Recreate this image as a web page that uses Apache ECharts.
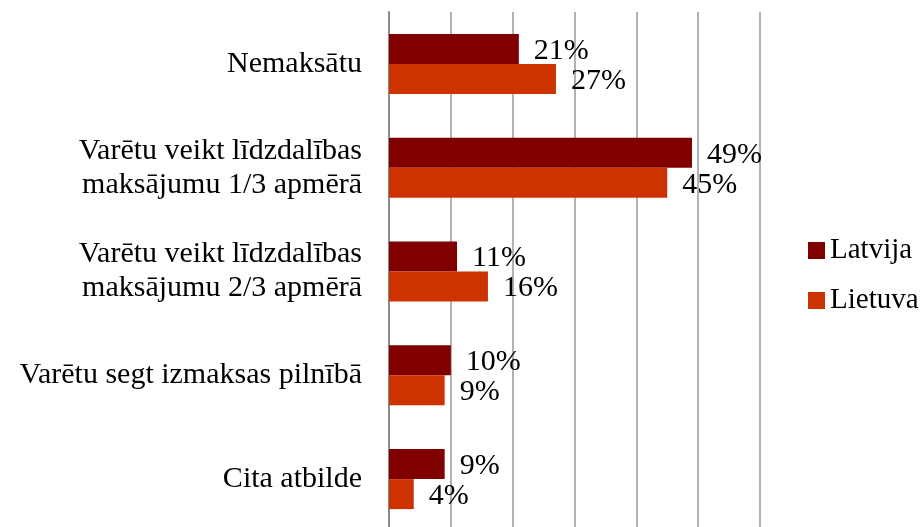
<!DOCTYPE html>
<html>
<head>
    <meta charset="utf-8">
    <title>Chart</title>
    <script src="https://cdn.jsdelivr.net/npm/echarts@6/dist/echarts.min.js"></script>
    <style>
        html, body { margin: 0; padding: 0; background: #fff; }
        #chart { width: 922px; height: 527px; }
    </style>
</head>
<body>
    <div id="chart"></div>
    <script>
        var categories = [
            'Nemaksātu',
            'Varētu veikt līdzdalības\nmaksājumu 1/3 apmērā',
            'Varētu veikt līdzdalības\nmaksājumu 2/3 apmērā',
            'Varētu segt izmaksas pilnībā',
            'Cita atbilde'
        ];
        var latvija = [21, 49, 11, 10, 9];
        var lietuva = [27, 45, 16, 9, 4];

        var font = '"Liberation Serif", "DejaVu Serif", serif';
        var labelStyle = {
            show: true,
            position: 'right',
            distance: 15,
            offset: [0, 2],
            formatter: '{c}%',
            color: '#000',
            fontFamily: font,
            fontSize: 30
        };

        var chart = echarts.init(document.getElementById('chart'));
        chart.setOption({
            animation: false,
            textStyle: { fontFamily: font },
            grid: { left: 389, top: 12, width: 371, height: 519, outerBoundsMode: 'none', containLabel: false },
            legend: {
                orient: 'vertical',
                left: 803,
                top: 231,
                itemWidth: 17,
                itemHeight: 17,
                itemGap: 21,
                icon: 'rect',
                textStyle: { fontFamily: font, fontSize: 29, color: '#000' },
                data: ['Latvija', 'Lietuva']
            },
            xAxis: {
                type: 'value',
                min: 0,
                max: 60,
                interval: 10,
                axisLabel: { show: false },
                axisLine: { show: false },
                axisTick: { show: false },
                splitLine: { lineStyle: { color: '#999', width: 1.5 } }
            },
            yAxis: {
                type: 'category',
                inverse: true,
                data: categories,
                axisLine: { lineStyle: { color: '#8c8c8c', width: 2 } },
                axisTick: { length: 8, lineStyle: { color: '#8c8c8c', width: 2 } },
                axisLabel: {
                    margin: 27,
                    color: '#000',
                    fontFamily: font,
                    fontSize: 30,
                    lineHeight: 34,
                    align: 'right'
                }
            },
            series: [
                {
                    name: 'Latvija',
                    type: 'bar',
                    data: latvija,
                    barWidth: 30,
                    barGap: '0%',
                    itemStyle: { color: '#800000' },
                    label: labelStyle
                },
                {
                    name: 'Lietuva',
                    type: 'bar',
                    data: lietuva,
                    barWidth: 30,
                    itemStyle: { color: '#cc3300' },
                    label: labelStyle
                }
            ]
        });
    </script>
</body>
</html>
